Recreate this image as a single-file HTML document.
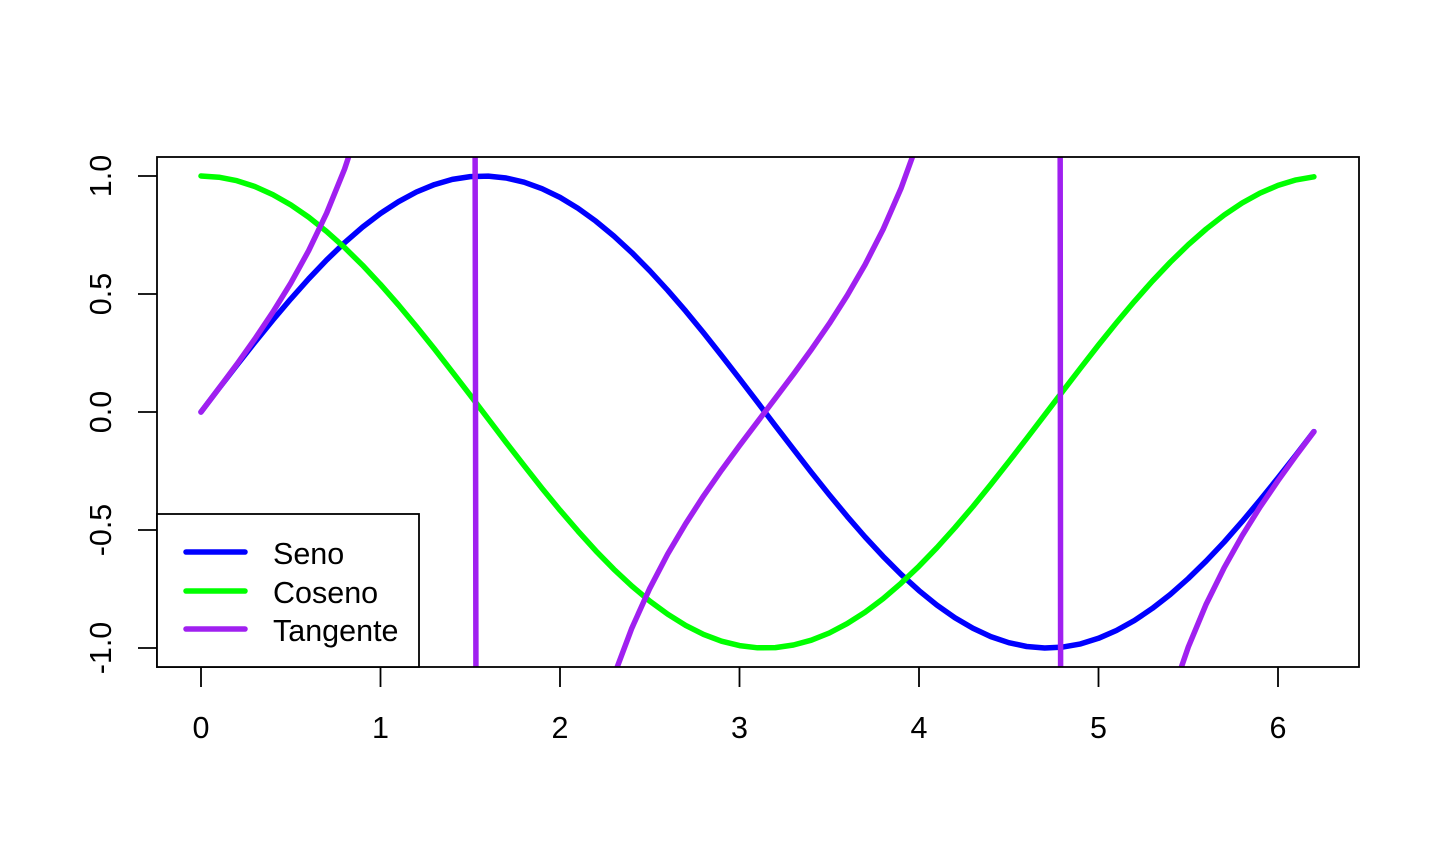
<!DOCTYPE html>
<html><head><meta charset="utf-8"><style>
html,body{margin:0;padding:0;background:#fff;width:1440px;height:864px;overflow:hidden;}
svg{display:block;font-family:"Liberation Sans",Arial,sans-serif;}
</style></head><body>
<svg id="chart" width="1440" height="864" viewBox="0 0 1440 864" xmlns="http://www.w3.org/2000/svg">
<defs><clipPath id="clip"><rect x="157" y="157" width="1202" height="510"/></clipPath></defs>
<g id="series" clip-path="url(#clip)"></g>
<rect x="157" y="157" width="1202" height="510" fill="none" stroke="#000" stroke-width="1.8"/>
<g id="axes"></g>
<g>
<rect x="157" y="514" width="262" height="153" fill="#fff" stroke="#000" stroke-width="1.8"/>
<line x1="186" y1="552" x2="245" y2="552" stroke="#0000FF" stroke-width="5.5" stroke-linecap="round"/>
<line x1="186" y1="591" x2="245" y2="591" stroke="#00FF00" stroke-width="5.5" stroke-linecap="round"/>
<line x1="186" y1="629" x2="245" y2="629" stroke="#A020F0" stroke-width="5.5" stroke-linecap="round"/>
<text x="273" y="564" font-size="30.5">Seno</text>
<text x="273" y="603" font-size="30.5">Coseno</text>
<text x="273" y="641" font-size="30.5">Tangente</text>
</g>
</svg>
<script>
const xs=[0,0.1,0.2,0.3,0.4,0.5,0.6,0.7,0.8,0.9,1.0,1.1,1.2,1.3,1.4,1.5,1.6,1.7,1.8,1.9,2.0,2.1,2.2,2.3,2.4,2.5,2.6,2.7,2.8,2.9,3.0,3.1,3.2,3.3,3.4,3.5,3.6,3.7,3.8,3.9,4.0,4.1,4.2,4.3,4.4,4.5,4.6,4.7,4.8,4.9,5.0,5.1,5.2,5.3,5.4,5.5,5.6,5.7,5.8,5.9,6.0,6.1,6.2];
const seno=[0,.0998,.1987,.2955,.3894,.4794,.5646,.6442,.7174,.7833,.8415,.8912,.9320,.9636,.9854,.9975,.9996,.9917,.9738,.9463,.9093,.8632,.8085,.7457,.6755,.5985,.5155,.4274,.3350,.2392,.1411,.0416,-.0584,-.1577,-.2555,-.3508,-.4425,-.5298,-.6119,-.6878,-.7568,-.8183,-.8716,-.9162,-.9516,-.9775,-.9937,-.9999,-.9962,-.9825,-.9589,-.9258,-.8835,-.8323,-.7728,-.7055,-.6313,-.5507,-.4646,-.3739,-.2794,-.1822,-.0831];
const coseno=[1,.9950,.9801,.9553,.9211,.8776,.8253,.7648,.6967,.6216,.5403,.4536,.3624,.2675,.1700,.0707,-.0292,-.1288,-.2272,-.3233,-.4161,-.5048,-.5885,-.6663,-.7374,-.8011,-.8569,-.9041,-.9422,-.9710,-.9900,-.9991,-.9983,-.9875,-.9668,-.9365,-.8968,-.8481,-.7910,-.7259,-.6536,-.5748,-.4903,-.4008,-.3073,-.2108,-.1122,-.0124,.0875,.1865,.2837,.3780,.4685,.5544,.6347,.7087,.7756,.8347,.8855,.9275,.9602,.9833,.9965];
const tangente=[0,.1003,.2027,.3093,.4228,.5463,.6841,.8423,1.0296,1.2602,1.5574,1.9648,2.5722,3.6021,5.7979,14.1014,-34.2325,-7.6966,-4.2863,-2.9271,-2.1850,-1.7098,-1.3738,-1.1192,-.9160,-.7470,-.6016,-.4727,-.3555,-.2464,-.1425,-.0416,.0585,.1597,.2643,.3746,.4935,.6247,.7736,.9474,1.1578,1.4235,1.7777,2.2858,3.0963,4.6373,8.8602,80.7128,-11.3849,-5.2675,-3.3805,-2.4494,-1.8856,-1.5013,-1.2175,-.9956,-.8139,-.6597,-.5247,-.4031,-.2910,-.1853,-.0834];
const xTicks=[0,1,2,3,4,5,6];
const yTicks=[-1,-0.5,0,0.5,1];
const yTickLabels=["-1.0","-0.5","0.0","0.5","1.0"];
const NS="http://www.w3.org/2000/svg";
function sx(v){return 201+v*179.5;}
function sy(v){return 412-v*236;}
const g=document.getElementById('series');
function addLine(vals,color,name){
  const p=document.createElementNS(NS,'polyline');
  p.setAttribute('points',xs.map((x,i)=>sx(x).toFixed(1)+','+sy(vals[i]).toFixed(1)).join(' '));
  p.setAttribute('fill','none');p.setAttribute('stroke',color);p.setAttribute('stroke-width','5.5');
  p.setAttribute('stroke-linejoin','round');p.setAttribute('stroke-linecap','round');
  
  
  g.appendChild(p);
}
addLine(seno,'#0000FF','seno-line');
addLine(coseno,'#00FF00','coseno-line');
addLine(tangente,'#A020F0','tangente-line');
const ax=document.getElementById('axes');


xTicks.forEach(t=>{
  const l=document.createElementNS(NS,'line');
  l.setAttribute('x1',sx(t));l.setAttribute('x2',sx(t));l.setAttribute('y1',667);l.setAttribute('y2',687);
  l.setAttribute('stroke','#000');l.setAttribute('stroke-width','1.8');
  
  
  ax.appendChild(l);
  const tx=document.createElementNS(NS,'text');
  tx.setAttribute('x',sx(t));tx.setAttribute('y',738);tx.setAttribute('text-anchor','middle');tx.setAttribute('font-size','30.5');
  tx.textContent=String(t);
  
  
  ax.appendChild(tx);
});
yTicks.forEach((t,i)=>{
  const l=document.createElementNS(NS,'line');
  l.setAttribute('x1',138);l.setAttribute('x2',157);l.setAttribute('y1',sy(t));l.setAttribute('y2',sy(t));
  l.setAttribute('stroke','#000');l.setAttribute('stroke-width','1.8');
  
  
  ax.appendChild(l);
  const tx=document.createElementNS(NS,'text');
  tx.setAttribute('x',0);tx.setAttribute('y',0);tx.setAttribute('text-anchor','middle');tx.setAttribute('font-size','30.5');
  tx.setAttribute('transform','translate(111,'+sy(t)+') rotate(-90)');
  tx.textContent=yTickLabels[i];
  
  
  ax.appendChild(tx);
});
</script>
</body></html>
